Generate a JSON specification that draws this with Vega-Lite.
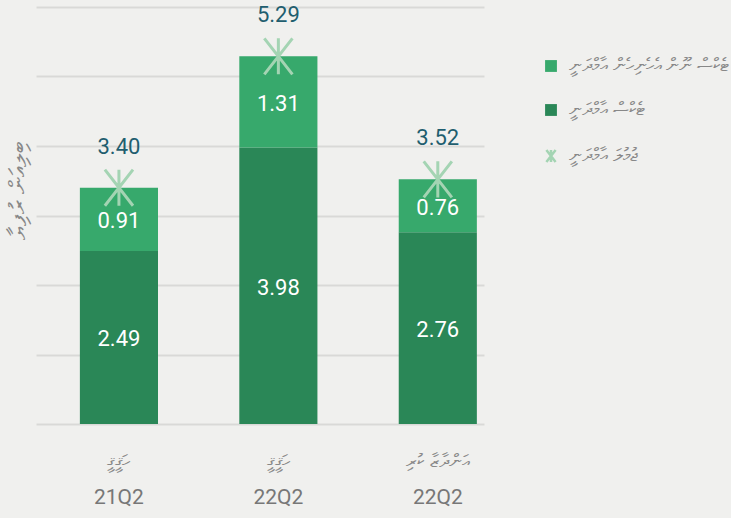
{
  "$schema": "https://vega.github.io/schema/vega-lite/v6.json",
  "width": 448,
  "height": 417,
  "autosize": {"type": "none"},
  "padding": {"left": 36, "top": 7, "right": 247, "bottom": 94},
  "background": "#f0f0ee",
  "config": {"view": {"stroke": null}, "font": "Roboto"},
  "datasets": {
    "parts": [
      {"bar": "ހަޤީޤީ 21Q2", "series": "ޓެކްސް އާމްދަނީ", "ord": 1, "value": 2.49},
      {"bar": "ހަޤީޤީ 21Q2", "series": "ޓެކްސް ނޫން އެހެނިހެން އާމްދަނީ", "ord": 2, "value": 0.91},
      {"bar": "ހަޤީޤީ 22Q2", "series": "ޓެކްސް އާމްދަނީ", "ord": 1, "value": 3.98},
      {"bar": "ހަޤީޤީ 22Q2", "series": "ޓެކްސް ނޫން އެހެނިހެން އާމްދަނީ", "ord": 2, "value": 1.31},
      {"bar": "އަންދާޒާ ކުރި 22Q2", "series": "ޓެކްސް އާމްދަނީ", "ord": 1, "value": 2.76},
      {"bar": "އަންދާޒާ ކުރި 22Q2", "series": "ޓެކްސް ނޫން އެހެނިހެން އާމްދަނީ", "ord": 2, "value": 0.76}
    ],
    "totals": [
      {"bar": "ހަޤީޤީ 21Q2", "kind": "ހަޤީޤީ", "series": "ޖުމުލަ އާމްދަނީ", "total": 3.40},
      {"bar": "ހަޤީޤީ 22Q2", "kind": "ހަޤީޤީ", "series": "ޖުމުލަ އާމްދަނީ", "total": 5.29},
      {"bar": "އަންދާޒާ ކުރި 22Q2", "kind": "އަންދާޒާ ކުރި", "series": "ޖުމުލަ އާމްދަނީ", "total": 3.52}
    ]
  },
  "encoding": {
    "x": {
      "field": "bar",
      "type": "nominal",
      "sort": null,
      "scale": {"domain": ["ހަޤީޤީ 21Q2", "ހަޤީޤީ 22Q2", "އަންދާޒާ ކުރި 22Q2"], "paddingInner": 0.51, "paddingOuter": 0.16, "align": 0.86},
      "axis": {
        "title": null,
        "labelExpr": "peek(split(datum.label, ' '))",
        "labelAngle": 0,
        "labelFont": "Roboto",
        "labelFontSize": 21,
        "labelColor": "#777777",
        "labelPadding": 62,
        "domain": false,
        "ticks": false,
        "grid": false
      }
    }
  },
  "layer": [
    {
      "data": {"name": "parts"},
      "mark": {"type": "bar"},
      "encoding": {
        "y": {
          "field": "value",
          "type": "quantitative",
          "stack": "zero",
          "scale": {"domain": [0, 6], "nice": false},
          "axis": {
            "title": "ބިލިއަން ރުފިޔާ",
            "values": [0, 1, 2, 3, 4, 5, 6],
            "labels": false,
            "ticks": false,
            "domain": false,
            "grid": true,
            "gridColor": "#d9d9d7",
            "gridWidth": 2,
            "titleFont": "DejaVu Sans",
            "titleFontSize": 24,
            "titleFontWeight": "normal",
            "titleColor": "#888888",
            "titlePadding": 6,
            "titleY": 183
          }
        },
        "color": {
          "field": "series",
          "type": "nominal",
          "scale": {
            "domain": ["ޓެކްސް ނޫން އެހެނިހެން އާމްދަނީ", "ޓެކްސް އާމްދަނީ", "ޖުމުލަ އާމްދަނީ"],
            "range": ["#37a96c", "#2a8757", "#a4d4b3"]
          },
          "legend": {
            "title": null,
            "orient": "none",
            "legendX": 506,
            "legendY": 50,
            "direction": "vertical",
            "labelFont": "DejaVu Sans",
            "labelFontSize": 18,
            "labelColor": "#888888",
            "labelLimit": 200,
            "labelOffset": 9,
            "rowPadding": 26,
            "symbolSize": 140,
            "encode": {
              "symbols": {
                "update": {
                  "fill": {"signal": "indexof(domain('color'), datum.value) == 2 ? 'transparent' : scale('color', datum.value)"},
                  "stroke": {"signal": "scale('color', datum.value)"},
                  "strokeWidth": {"signal": "indexof(domain('color'), datum.value) == 2 ? 2.5 : 0"},
                  "opacity": {"value": 1}
                }
              }
            }
          }
        },
        "order": {"field": "ord", "type": "quantitative"}
      }
    },
    {
      "data": {"name": "parts"},
      "transform": [
        {"stack": "value", "groupby": ["bar"], "sort": [{"field": "ord", "order": "ascending"}], "as": ["v0", "v1"]},
        {"fold": ["v0", "v1"], "as": ["k", "pos"]}
      ],
      "mark": {"type": "text", "color": "white", "fontSize": 22, "baseline": "middle", "dy": 2},
      "encoding": {
        "y": {"aggregate": "mean", "field": "pos", "type": "quantitative"},
        "text": {"field": "value", "type": "quantitative", "format": ".2f"},
        "detail": {"field": "series"}
      }
    },
    {
      "data": {"name": "totals"},
      "mark": {"type": "point", "filled": false, "strokeWidth": 3, "size": 1300, "opacity": 1},
      "encoding": {
        "y": {"field": "total", "type": "quantitative"},
        "color": {"field": "series", "type": "nominal"},
        "shape": {
          "field": "series",
          "type": "nominal",
          "scale": {
            "domain": ["ޓެކްސް ނޫން އެހެނިހެން އާމްދަނީ", "ޓެކްސް އާމްދަނީ", "ޖުމުލަ އާމްދަނީ"],
            "range": ["square", "square", "M0,-1L0,1M-0.78,-1L0.78,1M0.78,-1L-0.78,1"]
          },
          "legend": {
            "title": null,
            "orient": "none",
            "legendX": 506,
            "legendY": 50,
            "direction": "vertical",
            "labelFont": "DejaVu Sans",
            "labelFontSize": 18,
            "labelColor": "#888888",
            "labelLimit": 200,
            "labelOffset": 9,
            "rowPadding": 26,
            "symbolSize": 140,
            "encode": {
              "symbols": {
                "update": {
                  "fill": {"signal": "indexof(domain('color'), datum.value) == 2 ? 'transparent' : scale('color', datum.value)"},
                  "stroke": {"signal": "scale('color', datum.value)"},
                  "strokeWidth": {"signal": "indexof(domain('color'), datum.value) == 2 ? 2.5 : 0"},
                  "opacity": {"value": 1}
                }
              }
            }
          }
        }
      }
    },
    {
      "data": {"name": "totals"},
      "mark": {"type": "text", "dy": -41, "fontSize": 22, "color": "#1f5e6f", "baseline": "middle"},
      "encoding": {
        "y": {"field": "total", "type": "quantitative"},
        "text": {"field": "total", "type": "quantitative", "format": ".2f"}
      }
    },
    {
      "data": {"name": "totals"},
      "mark": {"type": "text", "dy": 38, "fontSize": 18, "color": "#888888", "font": "DejaVu Sans", "baseline": "middle"},
      "encoding": {
        "y": {"datum": 0, "type": "quantitative"},
        "text": {"field": "kind"}
      }
    }
  ]
}
